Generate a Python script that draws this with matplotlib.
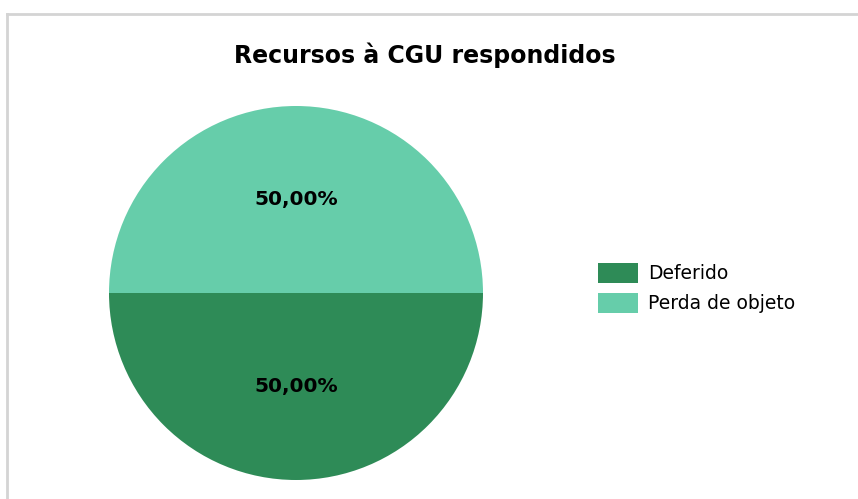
import matplotlib
matplotlib.use("Agg")
import matplotlib.pyplot as plt
from matplotlib.lines import Line2D

# data
categorias = ["Deferido", "Perda de objeto"]
valores = [50, 50]
cores = ["#2E8B57", "#66CDAA"]

plt.rcParams['font.family'] = ['DejaVu Sans']

fig = plt.figure(figsize=(8.58, 4.99), dpi=100)
W, H = 858, 499

# chart frame (light grey), only left and top edges visible
borda = dict(color="#D4D4D4", linewidth=2, transform=fig.transFigure)
fig.lines.append(Line2D([6.5 / W, 6.5 / W], [0, 1 - 14 / H], **borda))
fig.lines.append(Line2D([6.5 / W, 1], [1 - 14 / H, 1 - 14 / H], **borda))

ax = fig.add_axes([109 / W, 19 / H, 374 / W, 374 / H])
wedges, texts, autotexts = ax.pie(
    valores, colors=cores, startangle=180, counterclock=True,
    autopct=lambda p: f"{p:.2f}%".replace(".", ","), pctdistance=0.5,
    textprops=dict(fontsize=14.5, fontweight="bold", color="black"),
    wedgeprops=dict(linewidth=0))
ax.set_xlim(-1, 1)
ax.set_ylim(-1, 1)
ax.set_aspect("equal")

fig.text(425 / W, 1 - 55 / H, "Recursos à CGU respondidos", ha="center",
         va="center", fontsize=17, fontweight="bold")

fs = 13.5
px = fs * 100 / 72
hh = (20 / px - 0.245) / 0.65
fig.legend(wedges, categorias, loc="center left",
           bbox_to_anchor=((598 - 0.9 * px) / W, 1 - 288 / H), frameon=False,
           fontsize=fs, handlelength=40 / px, handleheight=hh,
           handletextpad=10 / px, labelspacing=0.5)

fig.savefig("out.png", dpi=100, facecolor="white")
